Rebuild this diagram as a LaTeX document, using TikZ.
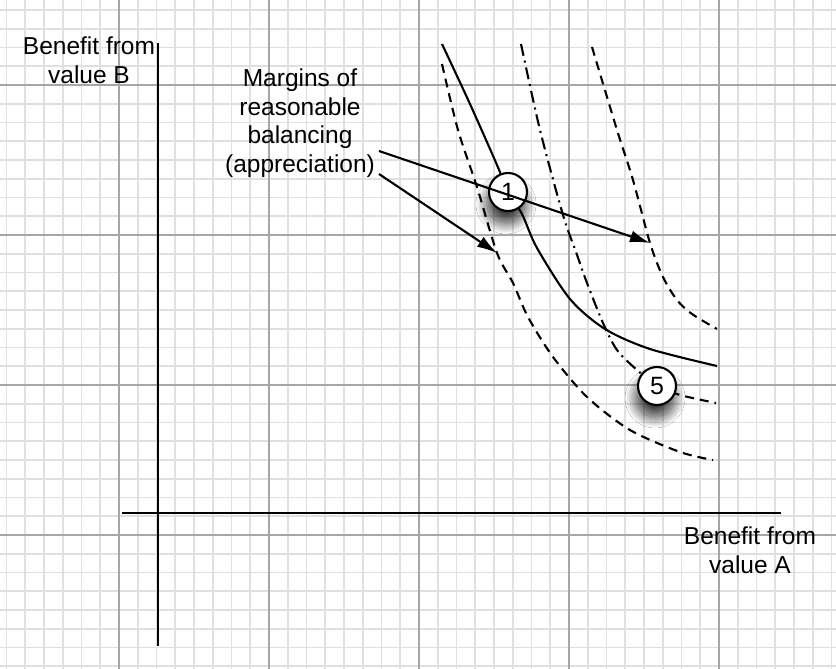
\documentclass[tikz,border=0pt]{standalone}
\usepackage{fontspec}
\setmainfont{Liberation Sans}
\usetikzlibrary{arrows.meta,shadows.blur}
\tikzset{
  minorgrid/.style={draw=black!12, line width=1.7pt},
  majorgrid/.style={draw=black!35, line width=1.1pt},
  axisline/.style={line width=2.5pt, draw=black},
  curve/.style={line width=2.1pt, draw=black},
  dashcurve/.style={curve, dash pattern=on 9pt off 6pt},
  dashdotcurve/.style={curve, dash pattern=on 12pt off 5pt on 2pt off 5pt},
  lbl/.style={font=\fontsize{24.5}{28.5}\selectfont, align=center, inner sep=0pt, anchor=north},
  marker/.style={circle, draw=black, line width=2.1pt, fill=white, minimum size=38pt,
    inner sep=0pt, font=\fontsize{25}{25}\selectfont,
    blur shadow={shadow xshift=-2pt, shadow yshift=-12pt, shadow blur radius=11pt,
      shadow blur steps=30, shadow opacity=80, shadow scale=1.0}},
  pointer/.style={line width=2.1pt, draw=black, -{Latex[length=20pt,width=12pt]}},
}
\begin{document}
\begin{tikzpicture}[x=1pt,y=-1pt]
\useasboundingbox (0,0) rectangle (836,669);
\fill[white] (0,0) rectangle (836,669);
% grid
\foreach \k in {0,...,44} \draw[minorgrid] ({6.5+\k*18.75},0) -- ({6.5+\k*18.75},669);
\foreach \k in {0,...,35} \draw[minorgrid] (0,{10+\k*18.75}) -- (836,{10+\k*18.75});
\foreach \k in {6,14,22,30,38} \draw[majorgrid] ({6.5+\k*18.75},0) -- ({6.5+\k*18.75},669);
\foreach \k in {4,12,20,28} \draw[majorgrid] (0,{10+\k*18.75}) -- (836,{10+\k*18.75});
% axes
\coordinate (ytop) at (158,43);
\coordinate (ybot) at (158,646);
\coordinate (xleft) at (122,513);
\coordinate (xright) at (781,513);
\draw[axisline] (ybot) -- (ytop);
\draw[axisline] (xleft) -- (xright);
% labels
\node[lbl] (labB) at (89,37) {Benefit from\\value B};
\node[lbl] (labA) at (750,527) {Benefit from\\value A};
\node[lbl] (margins) at (300,69) {Margins of\\reasonable\\balancing\\(appreciation)};
% curves
\coordinate (p1) at (508,192);
\coordinate (p5) at (657,386);
\draw[curve] plot[smooth, tension=0.5] coordinates {(442,44) (470,104) (497,165) (p1) (522,214) (537,248) (570,299) (605,329) (650,349) (717,366)};
\draw[dashcurve] plot[smooth, tension=0.5] coordinates {(442,64) (458,130) (477,187) (497,253) (513,283) (528,317) (553,357) (587,397) (630,430) (680,452) (713,460)};
\draw[dashdotcurve] plot[smooth, tension=0.5] coordinates {(521,44) (540,130) (563,215) (576,252) (587,283) (603,323) (617,350) (637,370) (p5)};
\draw[dashcurve] plot[smooth, tension=0.5] coordinates {(p5) (680,395) (716,403)};
\draw[dashcurve] plot[smooth, tension=0.5] coordinates {(592,47) (617,130) (633,180) (650,243) (663,277) (677,300) (692,314) (717,329)};
% markers
\node[marker] (m1) at (p1) {1};
\node[marker] (m5) at (p5) {5};
% pointers
\coordinate (a1s) at (379,151);
\coordinate (a1e) at (650,243);
\coordinate (a2s) at (379,174);
\coordinate (a2e) at (497,253);
\draw[pointer] (a1s) -- (a1e);
\draw[pointer] (a2s) -- (a2e);
\end{tikzpicture}
\end{document}
